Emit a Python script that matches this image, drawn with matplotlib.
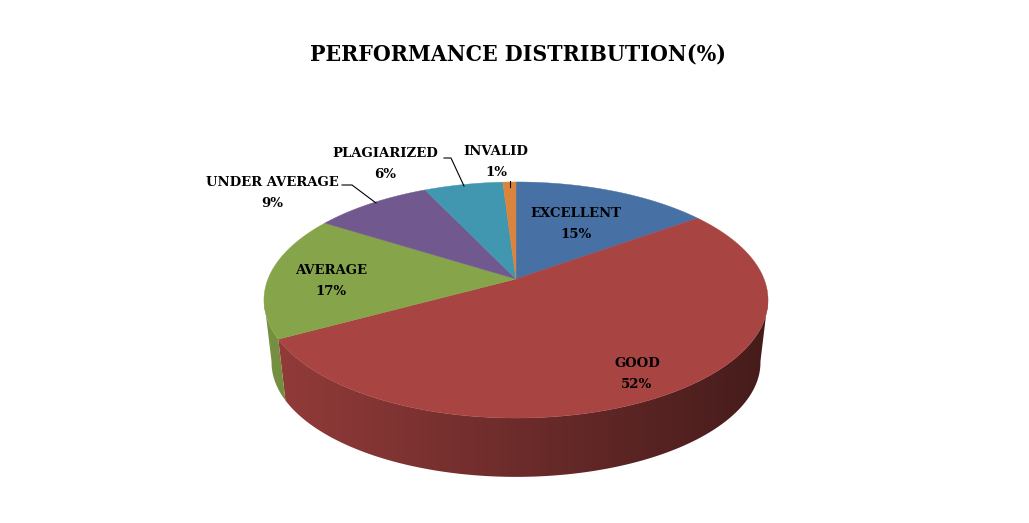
import matplotlib.pyplot as plt
import numpy as np
from matplotlib.patches import Polygon
from matplotlib.colors import to_rgb

# Data
labels = ['EXCELLENT', 'GOOD', 'AVERAGE', 'UNDER AVERAGE', 'PLAGIARIZED', 'INVALID']
values = [15, 52, 17, 9, 6, 1]
colors = ['#4770A5', '#A84442', '#86A54B', '#71588F', '#4197AF', '#DB843D']

# label anchor points (pixels) and leader lines
label_pos = [(576, 224), (637, 374), (331, 281), (272, 193), (385, 164), (496, 162)]
leaders = {3: [(342, 185), (352, 185), (376, 203)],
           4: [(444, 158), (451, 158), (464, 186)],
           5: [(510, 181), (510, 187)]}

fig = plt.figure(figsize=(10.29, 5.23), dpi=100)
ax = fig.add_axes([0, 0, 1, 1])

# 3d look: apex of the pie, perspective factor, half sizes, thickness
cx, cy = 516, 279
k = 0.178
a, c = 114.3, 248
depth, shrink = 63, 0.97

fracs = np.array(values) / sum(values)
ends = 90 - 360 * np.cumsum(fracs)
starts = ends + 360 * fracs


def rim(t, s=1.0, dy=0.0):
    t = np.radians(t)
    u, v = np.cos(t), np.sin(t)
    w = 1 + k * v
    return cx + s * c * u / w, cy - s * a * v / w + dy


xmin, xmax = cx - c / np.sqrt(1 - k ** 2), cx + c / np.sqrt(1 - k ** 2)
xs_grad = np.linspace(xmin, xmax, 400)
shade = 0.88 - 0.47 * (xs_grad - xmin) / (xmax - xmin)

# side wall, shaded darker to the right
for s, e, col in zip(starts, ends, colors):
    t = np.linspace(e, s, int((s - e) * 4) + 2)
    t = t[np.sin(np.radians(t)) < -k + 0.01]
    if len(t) < 2:
        continue
    tx, ty = rim(t)
    bx, by = rim(t, shrink, depth)
    pts = list(zip(tx, ty)) + list(zip(bx[::-1], by[::-1]))
    poly = Polygon(pts, closed=True, facecolor='none', edgecolor='none')
    ax.add_patch(poly)
    grad = np.array(to_rgb(col))[None, None, :] * shade[None, :, None]
    im = ax.imshow(np.clip(grad, 0, 1), extent=(xmin, xmax, 523, 0), aspect='auto',
                   interpolation='bilinear', zorder=1)
    im.set_clip_path(poly)

# top face
for s, e, col in zip(starts, ends, colors):
    t = np.linspace(s, e, int((s - e) * 2) + 2)
    xs, ys = rim(t)
    pts = [(cx, cy)] + list(zip(xs, ys))
    ax.add_patch(Polygon(pts, closed=True, facecolor=col, edgecolor=col, lw=0.3, zorder=3))

ax.set_xlim(0, 1029)
ax.set_ylim(523, 0)
ax.axis('off')

font = dict(family='DejaVu Serif', fontweight='bold', fontsize=9.5, color='black')
for i, (lab, v) in enumerate(zip(labels, values)):
    x, y = label_pos[i]
    ax.text(x, y, f'{lab}\n{v}%', ha='center', va='center', linespacing=1.75, zorder=5, **font)

for pts in leaders.values():
    xs, ys = zip(*pts)
    ax.plot(xs, ys, color='black', lw=0.8, zorder=4)

fig.text(0.503, 1 - 55 / 523, 'PERFORMANCE DISTRIBUTION(%)', ha='center', va='center',
         family='DejaVu Serif', fontstretch='condensed', fontweight='bold', fontsize=16.5,
         color='black')

fig.savefig('out.png', dpi=100)
